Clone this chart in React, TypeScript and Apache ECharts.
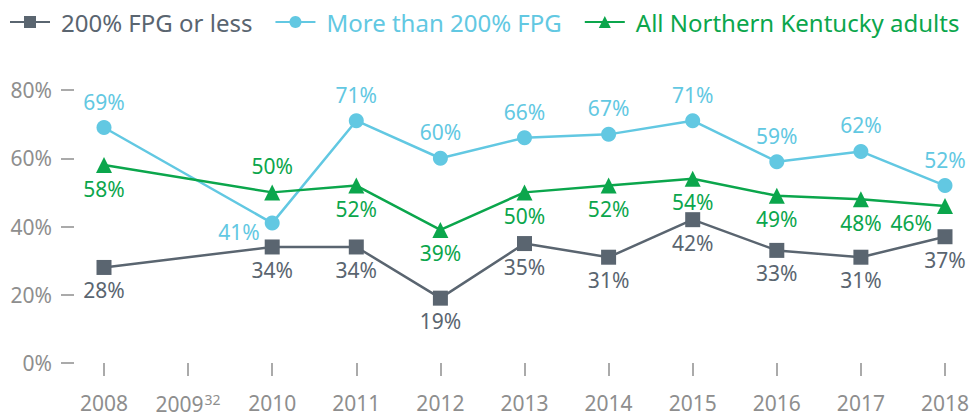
import React, { useEffect, useRef } from "react";
import * as echarts from "echarts";

const years = ["2008", "2009", "2010", "2011", "2012", "2013", "2014", "2015", "2016", "2017", "2018"];
const lowIncome = [28, null, 34, 34, 19, 35, 31, 42, 33, 31, 37];
const highIncome = [69, null, 41, 71, 60, 66, 67, 71, 59, 62, 52];
const allAdults = [58, null, 50, 52, 39, 50, 52, 54, 49, 48, 46];
const yTicks = [0, 20, 40, 60, 80];

const GRAY = "#5a6570";
const BLUE = "#62c8e2";
const GREEN = "#0ba64c";
const AXIS = "#8e8e8e";
const FONT = "Noto Sans";

export default function App() {
  const ref = useRef<HTMLDivElement>(null);
  useEffect(() => {
    const chart = echarts.init(ref.current!, null, { renderer: "svg" });
    const mk = (vals: (number | null)[], special: Record<number, any>) =>
      vals.map((v, i) =>
        v === null ? null : special[i] ? { value: v, label: { ...special[i] } } : { value: v }
      );
    chart.setOption({
      animation: false,
      textStyle: { fontFamily: FONT },
      legend: {
        top: 5,
        left: 4,
        itemWidth: 40,
        itemHeight: 15,
        itemGap: 22,
        textStyle: { fontSize: 24, fontFamily: FONT, padding: [0, 0, 0, 6] },
        data: [
          { name: "200% FPG or less", textStyle: { color: GRAY } },
          { name: "More than 200% FPG", textStyle: { color: BLUE } },
          { name: "All Northern Kentucky adults", textStyle: { color: GREEN } },
        ],
      },
      grid: { left: 104, right: 31, top: 90, bottom: 55 },
      xAxis: {
        type: "category",
        data: years,
        boundaryGap: false,
        offset: 5,
        axisLine: { show: false },
        axisTick: { show: true, length: 13, interval: 0, lineStyle: { color: AXIS, width: 1.5 } },
        axisLabel: {
          color: AXIS,
          fontSize: 21,
          margin: 24,
          interval: 0,
          fontFamily: FONT,
          formatter: (v: string) => (v === "2009" ? "{b|2009}{sup|32}" : v),
          rich: {
            b: { fontSize: 21, lineHeight: 24, color: AXIS, fontFamily: FONT },
            sup: { fontSize: 14, lineHeight: 14, color: AXIS, verticalAlign: "top", padding: [0, 0, 0, 1], fontFamily: FONT },
          },
        },
      },
      yAxis: {
        type: "value",
        min: yTicks[0],
        max: yTicks[yTicks.length - 1],
        interval: 20,
        offset: 30,
        axisLine: { show: false },
        splitLine: { show: false },
        axisTick: { show: true, length: 13, lineStyle: { color: AXIS, width: 1.5 } },
        axisLabel: { color: AXIS, fontSize: 21, margin: 22, formatter: "{value}%", fontFamily: FONT },
      },
      series: [
        {
          name: "200% FPG or less",
          type: "line",
          connectNulls: true,
          symbol: "rect",
          symbolSize: 15,
          itemStyle: { color: GRAY },
          lineStyle: { color: GRAY, width: 2.5 },
          label: { show: true, position: "bottom", distance: 5, color: GRAY, fontSize: 21, formatter: "{c}%", fontFamily: FONT },
          data: mk(lowIncome, {}),
        },
        {
          name: "More than 200% FPG",
          type: "line",
          connectNulls: true,
          symbol: "circle",
          symbolSize: 15,
          itemStyle: { color: BLUE },
          lineStyle: { color: BLUE, width: 2.5 },
          label: { show: true, position: "top", distance: 8, color: BLUE, fontSize: 21, formatter: "{c}%", fontFamily: FONT },
          data: mk(highIncome, { 2: { position: "left", distance: 5, offset: [0, 9] } }),
        },
        {
          name: "All Northern Kentucky adults",
          type: "line",
          connectNulls: true,
          symbol: "triangle",
          symbolSize: 16,
          itemStyle: { color: GREEN },
          lineStyle: { color: GREEN, width: 2.5 },
          label: { show: true, position: "bottom", distance: 5, color: GREEN, fontSize: 21, formatter: "{c}%", fontFamily: FONT },
          data: mk(allAdults, {
            2: { position: "top", distance: 8 },
            10: { position: "left", distance: 5, offset: [0, 17] },
          }),
        },
      ],
    });
    return () => chart.dispose();
  }, []);
  return <div ref={ref} style={{ width: 976, height: 418, position: "absolute", left: 0, top: 0 }} />;
}
